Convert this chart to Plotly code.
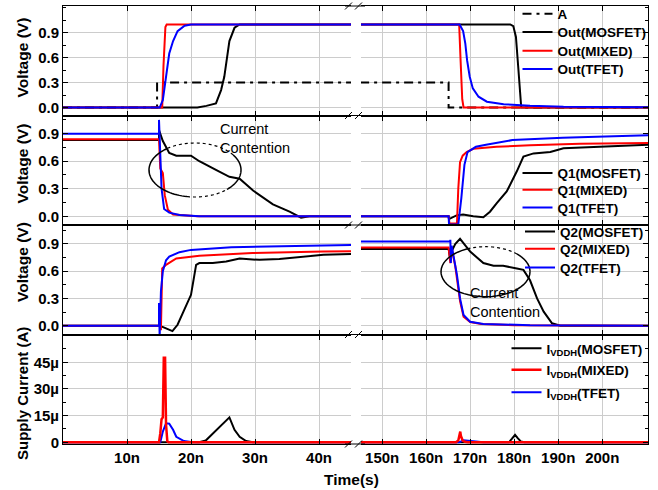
import math
import plotly.graph_objects as go

# ---------------- data (time in ns, voltage in V, current in uA) ----------------
# Panel 1: input A and outputs
a_t = [0, 14.7, 14.7, 45, 145, 165.1, 165.1, 211]
a_v = [0, 0, 0.3, 0.3, 0.3, 0.3, 0, 0]

out_mos_t = [0, 21.0, 22.4, 23.9, 24.7, 25.2, 26.0, 26.8, 27.6, 45, 145, 179.1, 179.8, 180.4, 180.9, 181.3, 181.6, 211]
out_mos_v = [0, 0, 0.02, 0.05, 0.21, 0.37, 0.80, 0.96, 1.0, 1.0, 1.0, 1.0, 0.98, 0.85, 0.5, 0.15, 0.0, 0.0]

out_mix_t = [0, 15.5, 15.7, 16.0, 16.2, 45, 145, 167.5, 167.8, 168.2, 168.5, 211]
out_mix_v = [0, 0, 0.5, 0.97, 1.0, 1.0, 1.0, 1.0, 0.6, 0.1, 0.0, 0.0]

out_tfet_t = [0, 15.1, 15.6, 16.1, 16.6, 17.2, 17.9, 19.0, 20.0, 45, 145, 167.6, 168.4, 168.9, 169.3, 169.9, 170.6, 171.9, 173.8, 177.6, 183.6, 191.2, 211]
out_tfet_v = [0, 0, 0.09, 0.37, 0.65, 0.80, 0.92, 0.985, 1.0, 1.0, 1.0, 1.0, 0.92, 0.77, 0.57, 0.37, 0.23, 0.13, 0.07, 0.04, 0.02, 0.008, 0.004]

# Panel 2: Q1
q1_mos_t = [0, 15.0, 15.0, 15.6, 16.6, 17.7, 20.0, 21.3, 23.9, 26.0, 27.6, 29.7, 32.8, 35.4, 37.2, 38.5, 45,
            145, 165.1, 165.2, 166.9, 168.4, 170.7, 173.0, 174.5, 176.0, 178.3, 180.6, 182.1, 184.4, 188.2, 191.2, 198.8, 211]
q1_mos_v = [0.832, 0.832, 0.94, 0.82, 0.69, 0.66, 0.66, 0.60, 0.505, 0.43, 0.41, 0.28, 0.13, 0.05, -0.015, 0.0, 0.0,
            0.0, 0.0, -0.03, 0.01, 0.02, 0.0, -0.01, 0.05, 0.14, 0.27, 0.49, 0.65, 0.685, 0.70, 0.74, 0.757, 0.78]

q1_mix_t = [0, 15.0, 15.2, 15.6, 15.9, 16.4, 17.2, 19.2, 21.0, 45,
            145, 165.1, 165.3, 167.0, 167.3, 167.7, 168.3, 169.2, 170.7, 176.0, 183.6, 195.0, 211]
q1_mix_v = [0.838, 0.838, 0.52, 0.47, 0.23, 0.07, 0.02, 0.01, 0.0, 0.0,
            0.0, 0.0, -0.08, -0.08, 0.3, 0.59, 0.66, 0.70, 0.735, 0.757, 0.775, 0.79, 0.80]

q1_tfet_t = [0, 15.0, 15.0, 15.2, 15.4, 15.8, 16.6, 18.2, 21.3, 45,
             145, 165.1, 165.2, 167.3, 168.0, 168.7, 169.4, 171.3, 173.6, 179.6, 191.0, 211]
q1_tfet_v = [0.9, 0.9, 1.05, 0.7, 0.3, 0.08, 0.04, 0.015, 0.0, 0.0,
             0.0, 0.0, -0.09, -0.09, 0.2, 0.56, 0.70, 0.757, 0.78, 0.83, 0.855, 0.885]

# Panel 3: Q2
q2_mos_t = [0, 15.1, 16.1, 17.1, 17.9, 19.0, 20.0, 20.8, 21.3, 23.4, 25.5, 27.6, 30.7, 33.8, 36.9, 40.7, 45,
            145, 165.1, 165.4, 165.8, 166.6, 167.7, 170.0, 173.0, 175.3, 177.5, 180.6, 182.1, 183.6, 185.2, 186.7, 188.6, 190.5, 211]
q2_mos_v = [0, 0, -0.03, -0.06, 0.01, 0.19, 0.34, 0.67, 0.69, 0.69, 0.706, 0.74, 0.725, 0.735, 0.755, 0.78, 0.79,
            0.846, 0.846, 0.75, 0.82, 0.90, 0.956, 0.816, 0.69, 0.66, 0.66, 0.63, 0.615, 0.50, 0.30, 0.155, 0.026, 0.0, 0.0]

q2_mix_t = [0, 15.2, 15.3, 15.5, 16.1, 17.7, 21.3, 29.6, 40.7, 45,
            145, 165.1, 165.5, 165.8, 166.6, 167.7, 168.5, 170.0, 172.5, 180.0, 211]
q2_mix_v = [0, 0, -0.05, 0.63, 0.67, 0.74, 0.77, 0.80, 0.816, 0.82,
            0.86, 0.86, 0.69, 0.85, 0.66, 0.27, 0.10, 0.04, 0.02, 0.005, 0.0]

q2_tfet_t = [0, 15.0, 15.0, 15.05, 15.1, 15.3, 15.6, 16.1, 16.6, 18.2, 20.0, 26.3, 40.7, 45,
             145, 165.4, 165.5, 165.6, 165.8, 166.2, 167.0, 167.7, 168.5, 170.0, 173.0, 183.6, 211]
q2_tfet_v = [0, 0, 0.25, -0.12, -0.12, 0.375, 0.6, 0.72, 0.76, 0.81, 0.835, 0.865, 0.885, 0.89,
             0.926, 0.926, 0.945, 0.69, 0.88, 0.78, 0.56, 0.30, 0.118, 0.044, 0.02, 0.005, 0.0]

# Panel 4: supply current (uA)
i_mos_t = [0, 21.3, 22.3, 23.4, 25.0, 26.0, 26.8, 27.6, 28.6, 29.7, 45,
           145, 178.8, 179.5, 180.2, 180.8, 181.5, 182.3, 211]
i_mos_v = [0, 0, 1.0, 5.0, 10.7, 14.0, 7.0, 3.1, 0.7, 0, 0,
           0, 0, 2.0, 4.2, 2.3, 0.5, 0, 0]

i_mix_t = [0, 15.0, 15.2, 15.4, 15.6, 15.75, 15.95, 16.1, 16.3, 16.5, 45,
           145, 166.8, 167.3, 167.6, 167.75, 167.9, 168.3, 168.8, 169.5, 211]
i_mix_v = [0, 0, 5.0, 13.0, 14.0, 47.5, 47.5, 10.0, 0.5, 0, 0,
           0, 0, 1.0, 3.5, 6.0, 3.5, 1.0, 0.3, 0, 0]

i_tfet_t = [0, 15.2, 15.6, 16.1, 16.6, 17.2, 17.7, 18.9, 20.0, 21.0, 45,
            145, 167.5, 168.5, 169.5, 171.0, 173.0, 211]
i_tfet_v = [0, 0, 6.0, 10.7, 10.5, 7.0, 3.1, 0.7, 0.2, 0, 0,
            0, 0, 1.2, 1.0, 0.4, 0, 0]

# tick labels
volt_ticks = [0.0, 0.3, 0.6, 0.9]
volt_labels = ["0.0", "0.3", "0.6", "0.9"]
cur_ticks = [0, 15, 30, 45]
cur_labels = ["0", "15\u00b5", "30\u00b5", "45\u00b5"]
left_xticks = [10, 20, 30, 40]
left_xlabels = ["10n", "20n", "30n", "40n"]
right_xticks = [150, 160, 170, 180, 190, 200]
right_xlabels = ["150n", "160n", "170n", "180n", "190n", "200n"]

# ---------------- layout geometry ----------------
W, H = 658, 490
ML, MR, MT, MB = 63, 10, 6, 46
PW, PH = W - ML - MR, H - MT - MB


def px(x):
    return (x - ML) / PW


def py(y):
    return (H - MB - y) / PH


col_domains = [[0, px(351)], [px(361), 1]]
row_bounds = [6, 115.5, 225, 334.5, 444]
row_domains = [[py(row_bounds[r + 1]), py(row_bounds[r])] for r in range(4)]
x_ranges = [[0, 45], [145.2, 210.4]]
y_ranges = [[-0.096, 1.222], [-0.095, 1.098], [-0.097, 1.109], [-0.96, 60.6]]

BLACK, RED, BLUE = "#000000", "#ff0000", "#0000ff"
FONT = "Liberation Sans, Arial, sans-serif"

fig = go.Figure()
legends = {}
leg_common = dict(xanchor="left", yanchor="middle", bgcolor="rgba(0,0,0,0)", borderwidth=0,
                  font=dict(family=FONT, size=13.5, color=BLACK, weight="bold"),
                  tracegroupgap=0, itemwidth=30)


def ids(r, c):
    k = r * 2 + c + 1
    return ("x" if k == 1 else f"x{k}"), ("y" if k == 1 else f"y{k}"), k


def add_series(r, name, t, v, color, leg_x, leg_y, dash="solid", width=2):
    lid = "legend" if not legends else f"legend{len(legends) + 1}"
    legends[lid] = dict(x=px(leg_x), y=py(leg_y), **leg_common)
    for c in range(2):
        pts = [(ti, vi) for ti, vi in zip(t, v) if (ti <= 45.5 if c == 0 else ti >= 144.5)]
        xr, yr, _ = ids(r, c)
        fig.add_trace(go.Scatter(
            x=[p[0] for p in pts], y=[p[1] for p in pts], mode="lines", name=name,
            line=dict(color=color, width=width, dash=dash), xaxis=xr, yaxis=yr,
            legend=lid, showlegend=(c == 0), hoverinfo="skip"))


DASHDOT = "9px,5px,3px,5px"
L1X, L2X, L3X, L4X = 517.5, 517.5, 520, 506.5
add_series(0, "A", a_t, a_v, BLACK, L1X, 14, dash=DASHDOT)
add_series(0, "Out(MOSFET)", out_mos_t, out_mos_v, BLACK, L1X, 32.3)
add_series(0, "Out(MIXED)", out_mix_t, out_mix_v, RED, L1X, 51)
add_series(0, "Out(TFET)", out_tfet_t, out_tfet_v, BLUE, L1X, 69.3)

add_series(1, "Q1(MOSFET)", q1_mos_t, q1_mos_v, BLACK, L2X, 173.3)
add_series(1, "Q1(MIXED)", q1_mix_t, q1_mix_v, RED, L2X, 190)
add_series(1, "Q1(TFET)", q1_tfet_t, q1_tfet_v, BLUE, L2X, 207.7)

add_series(2, "Q2(MOSFET)", q2_mos_t, q2_mos_v, BLACK, L3X, 231.7)
add_series(2, "Q2(MIXED)", q2_mix_t, q2_mix_v, RED, L3X, 249)
add_series(2, "Q2(TFET)", q2_tfet_t, q2_tfet_v, BLUE, L3X, 267.7)

add_series(3, "I<sub>VDDH</sub>(MOSFET)", i_mos_t, i_mos_v, BLACK, L4X, 348.5)
add_series(3, "I<sub>VDDH</sub>(TFET)", i_tfet_t, i_tfet_v, BLUE, L4X, 392.5)
add_series(3, "I<sub>VDDH</sub>(MIXED)", i_mix_t, i_mix_v, RED, L4X, 370, width=2.5)

layout = {}
for r in range(4):
    for c in range(2):
        xr, yr, k = ids(r, c)
        xkey = "xaxis" if k == 1 else f"xaxis{k}"
        ykey = "yaxis" if k == 1 else f"yaxis{k}"
        layout[xkey] = dict(
            domain=col_domains[c], anchor=yr, range=x_ranges[c],
            tickmode="array", tickvals=left_xticks if c == 0 else right_xticks,
            ticktext=left_xlabels if c == 0 else right_xlabels,
            showticklabels=(r == 3), ticks="inside", ticklen=5, tickcolor=BLACK,
            showline=True, linecolor=BLACK, linewidth=1, mirror="ticks",
            showgrid=True, gridcolor="#cccccc", gridwidth=1, zeroline=False,
            tickfont=dict(family=FONT, size=15, color=BLACK, weight="bold"),
        )
        if r == 3:
            tv, tt, md = cur_ticks, cur_labels, 7.5
        else:
            tv, tt, md = volt_ticks, volt_labels, 0.15
        layout[ykey] = dict(
            domain=row_domains[r], anchor=xr, range=y_ranges[r],
            tickmode="array", tickvals=tv, ticktext=tt,
            side="left" if c == 0 else "right", showticklabels=(c == 0),
            ticks="inside", ticklen=5, tickcolor=BLACK,
            minor=dict(tickmode="linear", tick0=0, dtick=md, ticks="inside", ticklen=3,
                       tickcolor=BLACK, showgrid=False),
            showline=True, linecolor=BLACK, linewidth=1, mirror=False,
            showgrid=True, gridcolor="#cccccc", gridwidth=1, zeroline=False,
            tickfont=dict(family=FONT, size=15, color=BLACK, weight="bold"),
        )
layout.update(legends)

# frame lines across the axis break and break marks
shapes = []
for yb in row_bounds:
    shapes.append(dict(type="line", xref="paper", yref="paper", x0=px(345), x1=px(365),
                       y0=py(yb), y1=py(yb), line=dict(color=BLACK, width=1)))
    for xs in (345, 355):
        shapes.append(dict(type="line", xref="paper", yref="paper", x0=px(xs), x1=px(xs + 7),
                           y0=py(yb + 3.5), y1=py(yb - 3.5), line=dict(color=BLACK, width=1)))


def arc(cx, cy, rx, ry, a0, a1, n=40):
    pts = []
    for i in range(n + 1):
        a = math.radians(a0 + (a1 - a0) * i / n)
        pts.append((px(cx + rx * math.cos(a)), py(cy - ry * math.sin(a))))
    return "M " + " L ".join(f"{x:.5f},{y:.5f}" for x, y in pts)


def ellipse(cx, cy, rx, ry, dotted):
    edges = sorted(dotted)
    solid = []
    start = 0
    for a0, a1 in edges:
        solid.append((start, a0))
        start = a1
    solid.append((start, 360))
    for a0, a1 in solid:
        shapes.append(dict(type="path", xref="paper", yref="paper", path=arc(cx, cy, rx, ry, a0, a1),
                           line=dict(color=BLACK, width=1.5)))
    for a0, a1 in edges:
        shapes.append(dict(type="path", xref="paper", yref="paper", path=arc(cx, cy, rx, ry, a0, a1),
                           line=dict(color=BLACK, width=1.2, dash="dot")))


ellipse(195, 170, 46, 27, [(34, 128), (260, 314)])
ellipse(485.5, 271.7, 44.5, 25, [(45, 110)])

ann_font = dict(family=FONT, size=14.5, color=BLACK)
title_font = dict(family=FONT, size=15.5, color=BLACK, weight="bold")
annotations = [
    dict(text="Current<br>Contention", x=px(218), y=py(138.5), xref="paper", yref="paper",
         xanchor="left", yanchor="middle", align="left", showarrow=False, font=ann_font),
    dict(text="Current<br>Contention", x=px(468), y=py(302), xref="paper", yref="paper",
         xanchor="left", yanchor="middle", align="left", showarrow=False, font=ann_font),
    dict(text="Time(s)", x=px(351), y=py(479), xref="paper", yref="paper",
         xanchor="center", yanchor="middle", showarrow=False, font=title_font),
]
for yc, txt, fs in [(57.5, "Voltage (V)", 15.5), (163.5, "Voltage (V)", 15.5),
                    (262, "Voltage (V)", 15.5), (394, "Supply Current (A)", 15)]:
    f = dict(title_font)
    f["size"] = fs
    annotations.append(dict(text=txt, x=px(22), y=py(yc), xref="paper", yref="paper", textangle=-90,
                            xanchor="center", yanchor="middle", showarrow=False, font=f))

fig.update_layout(
    width=W, height=H, margin=dict(l=ML, r=MR, t=MT, b=MB, autoexpand=False),
    paper_bgcolor="white", plot_bgcolor="white",
    font=dict(family=FONT, color=BLACK),
    shapes=shapes, annotations=annotations, **layout,
)

fig.write_html("out.html")
